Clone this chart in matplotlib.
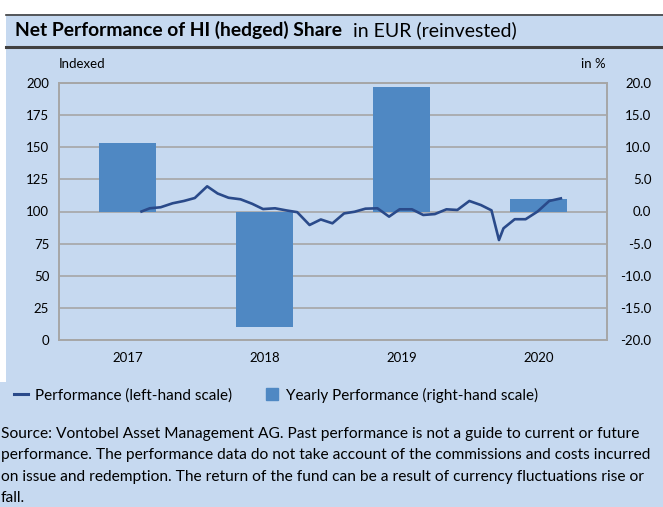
import pandas as pd
import matplotlib
matplotlib.use('Agg')
import matplotlib.pyplot as plt
from matplotlib.lines import Line2D
from matplotlib.patches import Rectangle


# yearly performance in % (right-hand scale)
years = ['2017', '2018', '2019', '2020']
yearly_perf = [10.7, -17.9, 19.4, 1.9]

# indexed performance (left-hand scale)
perf_dates = ['2017-08-09', '2017-08-31', '2017-09-29', '2017-10-31', '2017-11-30', '2017-12-29',
              '2018-01-31', '2018-02-28', '2018-03-29', '2018-04-30', '2018-05-31', '2018-06-29',
              '2018-07-31', '2018-08-31', '2018-09-28', '2018-10-31', '2018-11-30', '2018-12-31',
              '2019-01-31', '2019-02-28', '2019-03-29', '2019-04-30', '2019-05-31', '2019-06-28',
              '2019-07-31', '2019-08-30', '2019-09-30', '2019-10-31', '2019-11-29', '2019-12-31',
              '2020-01-31', '2020-02-28', '2020-03-19', '2020-03-31', '2020-04-30', '2020-05-29',
              '2020-06-30', '2020-07-31', '2020-08-31']
perf_values = [100.0, 102.5, 103.3, 106.4, 108.2, 110.5,
               119.6, 114.0, 110.7, 109.5, 106.0, 101.9,
               102.5, 100.8, 99.5, 89.5, 93.8, 90.8,
               98.5, 99.8, 102.2, 102.5, 96.0, 101.7,
               101.7, 97.3, 98.0, 101.7, 101.2, 108.2,
               105.0, 100.9, 77.8, 86.9, 94.0, 94.0,
               100.0, 108.2, 110.2]

source_lines = [
    'Source: Vontobel Asset Management AG. Past performance is not a guide to current or future',
    'performance. The performance data do not take account of the commissions and costs incurred',
    'on issue and redemption. The return of the fund can be a result of currency fluctuations rise or',
    'fall.',
]

bg = '#c6d9f0'
bar_color = '#4f88c3'
line_color = '#2a4a8a'
grid_color = '#a6a6a6'
dark = '#404040'
font = 'Lato'

W, H = 663, 507
fig = plt.figure(figsize=(W / 100, H / 100), dpi=100, facecolor=bg)
plt.rcParams['font.family'] = [font, 'DejaVu Sans']


def fx(px):
    return px / W


def fy(py):
    return 1 - py / H


# white margins and title band lines
fig.add_artist(Rectangle((0, fy(14)), 1, fy(0) - fy(14), transform=fig.transFigure,
                         facecolor='white', edgecolor='none', zorder=0))
fig.add_artist(Rectangle((0, fy(382)), fx(6), fy(14) - fy(382), transform=fig.transFigure,
                         facecolor='white', edgecolor='none', zorder=0))
fig.add_artist(Line2D([fx(6), 1], [fy(14.5), fy(14.5)], transform=fig.transFigure,
                      color=dark, lw=1.2))
fig.add_artist(Line2D([fx(6), 1], [fy(47), fy(47)], transform=fig.transFigure,
                      color=dark, lw=2.2))

fig.text(fx(15), fy(30), 'Net Performance of HI (hedged) Share', fontsize=13.85,
         fontweight='bold', va='center', ha='left', color='black')
fig.text(fx(353), fy(30), 'in EUR (reinvested)', fontsize=14,
         va='center', ha='left', color='black')

# axes: bars on ax2 (right scale, behind), line on ax (left scale, on top)
ax = fig.add_axes([fx(59), fy(340), fx(607) - fx(59), fy(83) - fy(340)])
ax2 = ax.twinx()
ax.set_zorder(ax2.get_zorder() + 1)
ax.patch.set_visible(False)

x_bars = [i + 0.5 for i in range(len(years))]
ax2.bar(x_bars, yearly_perf, width=0.42, color=bar_color, zorder=2,
        label='Yearly Performance (right-hand scale)')

start = pd.Timestamp('2017-01-01')
dates = pd.to_datetime(perf_dates)
x_line = [(d - start).days / 365.25 for d in dates]
ax.plot(x_line, perf_values, color=line_color, lw=1.9, solid_joinstyle='round',
        label='Performance (left-hand scale)')

ax.set_xlim(0, 4)
ax.set_ylim(0, 200)
ax2.set_ylim(-20, 20)
ax.set_yticks(range(0, 201, 25))
ax2.set_yticks(range(-20, 21, 5))
ax2.set_yticklabels([f'{v:.1f}' for v in range(-20, 21, 5)])
ax.set_xticks(x_bars)
ax.set_xticklabels(years)
ax.set_xticks(range(5), minor=True)

ax2.grid(True, axis='y', color=grid_color, lw=1.2, zorder=0)
ax2.set_axisbelow(True)
ax2.set_xticks(range(5), minor=True)
ax2.grid(True, axis='x', which='minor', color=grid_color, lw=1.2)

for a in (ax, ax2):
    for s in a.spines.values():
        s.set_color(grid_color)
        s.set_linewidth(1.2)

ax.tick_params(axis='both', which='both', length=0, labelsize=9.5, colors='black')
ax.tick_params(axis='y', pad=7)
ax.tick_params(axis='x', pad=9)
ax2.tick_params(axis='y', length=0, labelsize=9.5, pad=32)
for t in ax2.get_yticklabels():
    t.set_horizontalalignment('right')

fig.text(fx(59), fy(64), 'Indexed', fontsize=9.5, va='center', ha='left')
fig.text(fx(606), fy(64), 'in %', fontsize=9.5, va='center', ha='right')

# legend
handles = [Line2D([], [], color=line_color, lw=2.2),
           Line2D([], [], color=bar_color, marker='s', markersize=8, linestyle='none')]
labels = ['Performance (left-hand scale)', 'Yearly Performance (right-hand scale)']
fig.legend(handles, labels, loc='center left', bbox_to_anchor=(fx(14), fy(395)), ncol=2,
           frameon=False, fontsize=11, handlelength=0.9, handletextpad=0.45,
           columnspacing=2.2, borderaxespad=0, borderpad=0)

# source note
for i, line in enumerate(source_lines):
    fig.text(fx(1), fy(434 + i * 21.5), line, fontsize=11.2, va='center', ha='left')

fig.savefig('out.png', dpi=100, facecolor=bg)
